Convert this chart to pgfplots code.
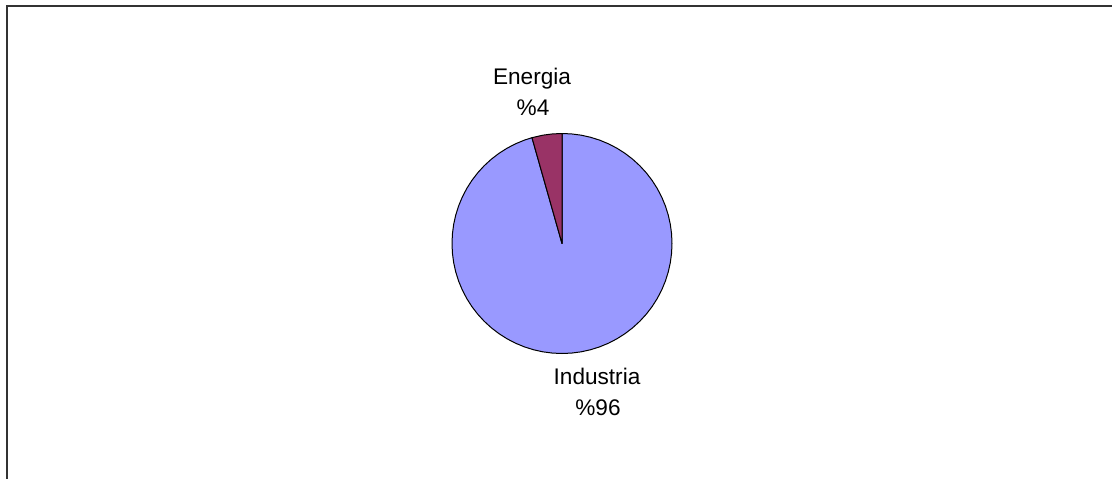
\documentclass[border=0pt]{standalone}
\usepackage{pgfplots}
\pgfplotsset{compat=1.18}
\usepackage{fontspec}
\setmainfont{Liberation Sans}
\definecolor{ind}{HTML}{9999FF}
\definecolor{ene}{HTML}{993366}
\definecolor{frame}{HTML}{333333}
\begin{document}
\begin{tikzpicture}[x=1pt,y=1pt]
\useasboundingbox (0,0) rectangle (1112,-479);
\draw[line width=1.4pt, color=frame] (1112,-6) -- (7,-6) -- (7,-479);
\begin{axis}[at={(562pt,-243.5pt)}, anchor=center, hide axis, scale only axis,
  x=110pt, y=110pt, xmin=-1.2, xmax=1.2, ymin=-1.2, ymax=1.2, clip=false]
% Industria 95.6 %  (from 90+15.84 to 450 degrees)
\addplot[data cs=polar, fill=ind, draw=black, line width=1pt, line join=round] coordinates {
 (0,0) (105.84,1) (110,1) (115,1) (120,1) (125,1) (130,1) (135,1) (140,1) (145,1) (150,1)
 (155,1) (160,1) (165,1) (170,1) (175,1) (180,1) (185,1) (190,1) (195,1) (200,1)
 (205,1) (210,1) (215,1) (220,1) (225,1) (230,1) (235,1) (240,1) (245,1) (250,1)
 (255,1) (260,1) (265,1) (270,1) (275,1) (280,1) (285,1) (290,1) (295,1) (300,1)
 (305,1) (310,1) (315,1) (320,1) (325,1) (330,1) (335,1) (340,1) (345,1) (350,1)
 (355,1) (360,1) (365,1) (370,1) (375,1) (380,1) (385,1) (390,1) (395,1) (400,1)
 (405,1) (410,1) (415,1) (420,1) (425,1) (430,1) (435,1) (440,1) (445,1) (450,1) (0,0)
} -- cycle;
% Energia 4.4 %  (from 90 to 105.84 degrees)
\addplot[data cs=polar, fill=ene, draw=black, line width=1pt, line join=round] coordinates {
 (0,0) (90,1) (95,1) (100,1) (105.84,1) (0,0)
} -- cycle;
\end{axis}
\begin{scope}[every node/.style={font=\fontsize{22.6}{27}\selectfont, inner sep=0pt, anchor=base}]
\node at (532,-84.3) {Energia};
\node at (533,-115.5) {\%4};
\node at (597,-384.3) {Industria};
\node at (598,-415) {\%96};
\end{scope}
\end{tikzpicture}
\end{document}
